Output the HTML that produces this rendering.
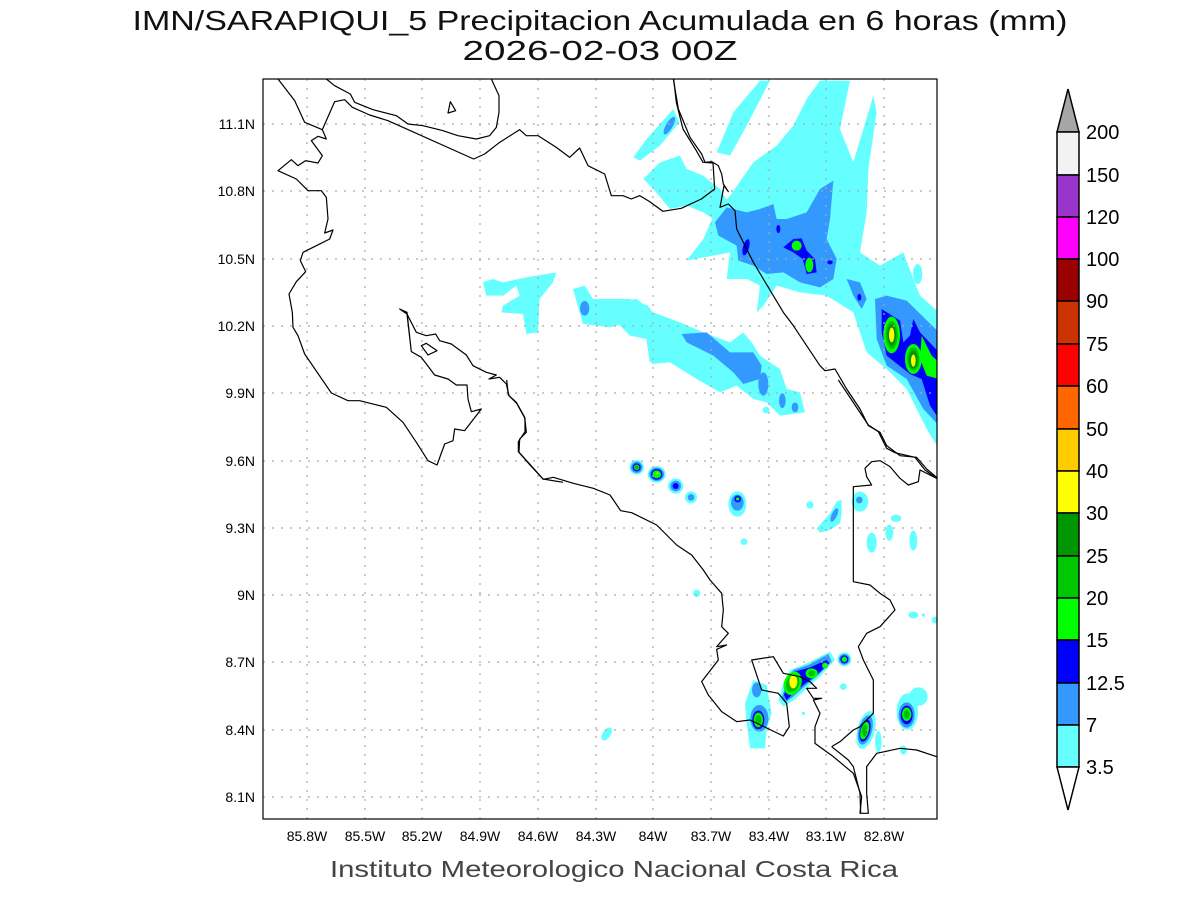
<!DOCTYPE html>
<html><head><meta charset="utf-8"><style>
html,body{margin:0;padding:0;background:#fff;}
svg{display:block;}
text{font-family:"Liberation Sans",sans-serif;}
</style></head><body>
<svg width="1200" height="900" viewBox="0 0 1200 900" xmlns="http://www.w3.org/2000/svg">
<rect width="1200" height="900" fill="#fff"/>
<text x="600" y="30" font-size="28" text-anchor="middle" textLength="935" lengthAdjust="spacingAndGlyphs" fill="#111">IMN/SARAPIQUI_5 Precipitacion Acumulada en 6 horas (mm)</text>
<text x="600" y="60" font-size="28" text-anchor="middle" textLength="275" lengthAdjust="spacingAndGlyphs" fill="#111">2026-02-03 00Z</text>

<defs><clipPath id="cp"><rect x="263" y="79" width="674" height="740"/></clipPath></defs>
<g clip-path="url(#cp)">
<!-- zoom3 frame rain -->
<g transform="translate(620,79) scale(0.33333)">
<g fill="#66ffff">
<path d="M200,545 L250,480 285,400 330,350 400,250 470,200 520,140 560,60 600,5 690,5 660,150 700,250 760,50 770,100 745,270 740,400 720,520 780,560 850,520 880,600 900,650 957,700 957,1110 920,1050 860,930 800,870 740,820 700,700 620,650 540,640 470,620 430,680 410,700 420,620 380,600 320,600 330,520 280,530Z"/>
<path d="M290,220 L340,100 420,5 450,5 380,140 330,230Z"/>
<path d="M40,235 L80,180 160,90 178,130 120,200 60,245Z"/>
<path d="M70,300 L120,250 180,230 200,270 250,290 300,330 330,380 280,420 250,400 200,380 150,390 100,330Z"/>
<path d="M0,665 L50,660 100,700 180,730 250,760 330,790 370,760 395,790 420,830 480,870 500,930 540,940 555,1000 480,1010 440,970 400,960 350,920 300,940 230,900 150,850 95,855 80,760 30,770 0,740Z"/>
<ellipse cx="893" cy="585" rx="14" ry="30"/>
<ellipse cx="438" cy="993" rx="10" ry="10"/>
</g>
<g fill="#3399ff">
<path d="M285,430 L320,385 380,400 420,390 460,375 470,420 500,420 560,400 600,330 640,305 630,420 620,480 650,540 640,600 600,625 540,610 490,580 440,585 400,560 355,545 350,500 295,470Z"/>
<path d="M765,660 L800,650 860,665 957,760 957,1040 910,990 860,900 800,860 770,780Z"/>
<path d="M680,600 L720,610 740,660 725,690 700,650Z"/>
<path d="M185,765 L260,760 330,820 400,820 425,860 420,900 370,915 340,880 280,830 200,790Z"/>
<ellipse cx="430" cy="915" rx="15" ry="35"/>
<ellipse cx="487" cy="965" rx="10" ry="22"/>
<ellipse cx="525" cy="985" rx="10" ry="15"/>
<ellipse cx="148" cy="140" rx="10" ry="30" transform="rotate(30 148 140)"/>
</g>
<g fill="#0000ff">
<ellipse cx="378" cy="505" rx="9" ry="25" transform="rotate(15 378 505)"/>
<path d="M490,505 L520,480 545,478 560,515 585,540 590,580 560,585 548,540 520,520Z"/>
<ellipse cx="475" cy="450" rx="6" ry="12"/>
<ellipse cx="630" cy="550" rx="8" ry="6"/>
<ellipse cx="718" cy="655" rx="6" ry="10"/>
<path d="M785,690 L840,725 850,790 870,770 880,720 900,760 957,820 957,1020 930,980 905,900 870,885 800,830 785,760Z"/>
</g>
<g fill="#00ff00">
<ellipse cx="530" cy="500" rx="15" ry="15"/>
<ellipse cx="568" cy="558" rx="12" ry="22"/>
<ellipse cx="815" cy="768" rx="25" ry="55"/>
<ellipse cx="880" cy="840" rx="25" ry="45"/>
<path d="M905,770 L935,830 957,850 957,900 920,890 900,840Z"/>
</g>
<g fill="#00c000"><ellipse cx="815" cy="768" rx="18" ry="42"/><ellipse cx="880" cy="840" rx="18" ry="35"/></g>
<g fill="#009600"><ellipse cx="815" cy="768" rx="13" ry="32"/><ellipse cx="880" cy="842" rx="13" ry="27"/></g>
<g fill="#ffff00"><ellipse cx="815" cy="768" rx="8" ry="22"/><ellipse cx="880" cy="845" rx="7" ry="18"/></g>
</g>

<!-- zoom1 frame rain -->
<g transform="translate(263,79) scale(0.33333)">
<g fill="#66ffff">
<path d="M660,610 L690,600 720,610 790,595 880,580 870,610 830,660 825,760 790,765 780,705 715,700 720,680 770,650 760,620 720,650 670,650Z"/>
<path d="M930,630 L965,620 990,660 1100,660 1155,680 1180,720 1240,730 1240,820 1160,850 1150,780 1100,770 1080,735 1040,745 960,735Z"/>
</g>
<ellipse cx="965" cy="688" rx="14" ry="22" fill="#3399ff"/>
</g>

<!-- zoom2 frame rain -->
<g transform="translate(500,380) scale(0.33333)">
<g fill="#66ffff">
<circle cx="410" cy="262" r="22"/><ellipse cx="470" cy="283" rx="27" ry="25"/><circle cx="527" cy="318" r="23"/><circle cx="573" cy="352" r="18"/>
<ellipse cx="712" cy="372" rx="27" ry="38"/>
<circle cx="732" cy="485" r="10"/><circle cx="590" cy="640" r="11"/>
<ellipse cx="320" cy="1062" rx="12" ry="22" transform="rotate(35 320 1062)"/>
<circle cx="930" cy="375" r="11"/>
<path d="M950,445 L990,400 1010,365 1025,360 1025,400 1020,430 990,450 960,458Z"/>
<ellipse cx="1080" cy="365" rx="25" ry="30"/>
<ellipse cx="1115" cy="488" rx="15" ry="30"/><ellipse cx="1168" cy="458" rx="12" ry="24"/><ellipse cx="1240" cy="482" rx="12" ry="30"/><ellipse cx="1188" cy="415" rx="16" ry="11"/>
<ellipse cx="1240" cy="705" rx="15" ry="10"/><circle cx="1270" cy="705" r="5"/><circle cx="1305" cy="720" r="10"/>
<circle cx="1030" cy="920" r="10"/><circle cx="910" cy="1000" r="5"/><ellipse cx="1135" cy="1085" rx="10" ry="32"/><ellipse cx="1210" cy="1110" rx="10" ry="14"/>
<path d="M760,900 L800,915 815,1000 800,1050 795,1105 750,1105 740,1030 735,970Z"/>
<path d="M835,960 L850,910 870,870 920,850 990,815 1005,840 960,890 920,925 880,962 850,980Z"/>
<circle cx="1033" cy="838" r="21"/>
<ellipse cx="1098" cy="1050" rx="26" ry="58" transform="rotate(15 1098 1050)"/>
<ellipse cx="1222" cy="995" rx="32" ry="55"/><circle cx="1255" cy="950" r="28"/>
</g>
<g fill="#3399ff">
<circle cx="410" cy="262" r="17"/><ellipse cx="470" cy="283" rx="22" ry="20"/><circle cx="527" cy="318" r="16"/><circle cx="573" cy="352" r="10"/>
<ellipse cx="712" cy="368" rx="19" ry="24"/>
<ellipse cx="1003" cy="405" rx="8" ry="22" transform="rotate(25 1003 405)"/>
<circle cx="1078" cy="360" r="10"/>
<ellipse cx="770" cy="930" rx="14" ry="22"/><ellipse cx="778" cy="1015" rx="27" ry="40"/>
<path d="M845,955 L860,905 880,870 925,855 985,822 995,845 955,885 915,918 880,950 855,968Z"/>
<circle cx="1033" cy="838" r="16"/>
<ellipse cx="1096" cy="1050" rx="20" ry="45" transform="rotate(15 1096 1050)"/>
<ellipse cx="1220" cy="1005" rx="24" ry="38"/>
</g>
<g fill="#0000ff">
<circle cx="410" cy="262" r="12"/><ellipse cx="470" cy="283" rx="17" ry="16"/><circle cx="527" cy="318" r="9"/>
<circle cx="713" cy="357" r="10"/>
<ellipse cx="775" cy="1020" rx="18" ry="28"/>
<path d="M852,945 L865,905 885,875 930,862 980,840 988,850 950,885 910,915 875,945 860,960Z"/>
<circle cx="1033" cy="838" r="12"/>
<ellipse cx="1095" cy="1052" rx="15" ry="34" transform="rotate(15 1095 1052)"/>
<ellipse cx="1220" cy="1005" rx="18" ry="28"/>
</g>
<g fill="#00ff00">
<circle cx="410" cy="262" r="8"/><ellipse cx="470" cy="283" rx="13" ry="12"/>
<circle cx="713" cy="357" r="5"/>
<ellipse cx="775" cy="1020" rx="14" ry="22"/>
<ellipse cx="878" cy="910" rx="26" ry="36" transform="rotate(20 878 910)"/><ellipse cx="935" cy="880" rx="18" ry="15"/><ellipse cx="975" cy="857" rx="9" ry="9"/>
<circle cx="1033" cy="838" r="8"/>
<ellipse cx="1094" cy="1052" rx="12" ry="27" transform="rotate(15 1094 1052)"/>
<ellipse cx="1220" cy="1003" rx="14" ry="20"/>
</g>
<g fill="#00c000"><circle cx="410" cy="262" r="5"/><ellipse cx="775" cy="1020" rx="9" ry="14"/><ellipse cx="878" cy="910" rx="19" ry="27" transform="rotate(20 878 910)"/><ellipse cx="935" cy="880" rx="10" ry="9"/><ellipse cx="1094" cy="1052" rx="8" ry="18"/><ellipse cx="1220" cy="1003" rx="9" ry="13"/></g>
<g fill="#ffff00"><ellipse cx="880" cy="905" rx="12" ry="20"/><circle cx="472" cy="280" r="3"/></g>
</g>

<!-- grid -->
<g stroke="#aaa" stroke-width="1.2" stroke-dasharray="2,7">
<line x1="307" y1="79" x2="307" y2="819"/><line x1="365" y1="79" x2="365" y2="819"/><line x1="422" y1="79" x2="422" y2="819"/><line x1="480" y1="79" x2="480" y2="819"/><line x1="538" y1="79" x2="538" y2="819"/><line x1="596" y1="79" x2="596" y2="819"/><line x1="653" y1="79" x2="653" y2="819"/><line x1="711" y1="79" x2="711" y2="819"/><line x1="769" y1="79" x2="769" y2="819"/><line x1="826" y1="79" x2="826" y2="819"/><line x1="884" y1="79" x2="884" y2="819"/>
<line x1="263" y1="124" x2="937" y2="124"/><line x1="263" y1="191" x2="937" y2="191"/><line x1="263" y1="259" x2="937" y2="259"/><line x1="263" y1="326" x2="937" y2="326"/><line x1="263" y1="393" x2="937" y2="393"/><line x1="263" y1="461" x2="937" y2="461"/><line x1="263" y1="528" x2="937" y2="528"/><line x1="263" y1="595" x2="937" y2="595"/><line x1="263" y1="662" x2="937" y2="662"/><line x1="263" y1="730" x2="937" y2="730"/><line x1="263" y1="797" x2="937" y2="797"/>
</g>

<!-- coastlines -->
<g fill="none" stroke="#000" stroke-width="3.6" stroke-linejoin="round">
<g transform="translate(263,79) scale(0.33333)">
<path d="M45,0 L95,65 125,130 178,152 190,180 165,172 145,185 178,230 165,252 128,245 105,260 85,242 45,275 100,300 135,335 175,335 190,355 195,420 185,462 210,453 200,480 160,500 120,520 112,545 128,578 100,608 78,645 88,700 90,745 105,770 125,825 205,942 255,965 290,965 370,985 420,1030 460,1090 495,1145 522,1158 545,1095 570,1085 575,1050 605,1055 655,990 625,998 615,960 612,918 580,918 555,900 515,888 475,835 445,818 432,700 410,690 432,705 445,818"/>
<path d="M432,705 L460,760 490,770 518,765 530,785 565,795 610,828 630,860 670,880 700,888 678,900 710,895 730,915 738,950 760,970 785,1015 790,1060 770,1080 768,1120 800,1155 840,1200 900,1210"/>
<path d="M178,152 L215,68 245,62 268,85 320,108 375,125 632,240 665,225 710,190 770,152 790,170 825,170 880,205 920,235 950,207 975,260 1025,285 1045,350 1080,350 1105,360 1130,350 1160,368 1200,397 1255,388 1315,360 1355,330 1350,252 1320,250 1300,215 1260,150 1240,70 1232,0"/>
<path d="M190,0 L215,20 262,45 275,70 330,92 400,110 435,135 480,140 540,155 585,170 640,180 680,170 700,145 708,100 708,50 685,0"/>
<path d="M555,102 L562,68 578,95Z"/>
<path d="M475,800 L490,793 522,815 495,828Z"/>
</g>
<g transform="translate(620,79) scale(0.33333)">
<path d="M160,0 L175,90 210,175 245,225 255,250 275,248 295,260 305,285 310,315 325,338 312,320 300,385 325,375 345,395 350,450 380,510 400,550 430,600 460,650 490,700 520,740 560,800 600,860 615,875 645,870 680,930 720,990 745,1040 780,1060 800,1100 840,1130 890,1135 920,1170 950,1195"/>
</g>
<g transform="translate(500,380) scale(0.33333)">
<path d="M20,0 L25,45 50,70 75,115 75,155 55,185 55,215 90,255 130,298 160,292 220,310 280,325 330,345 362,392 395,398 470,435 530,495 575,525 610,570 630,600 665,640 670,690 665,740 685,760 650,800 680,795 650,808 655,840 605,905 625,945 665,995 710,1025 750,1020 850,1068 868,1040 860,970 835,940 785,930 755,840 820,830 850,880 900,890 930,905 950,925 920,925 940,955 965,955 940,960 960,1000 945,1040 945,1090 1000,1130 1060,1180 1085,1250 1080,1300 1105,1300 1100,1240 1100,1160 1130,1120 1200,1105 1250,1110 1310,1130"/>
<path d="M995,1100 L1020,1085 1060,1050 1080,1040 1120,1000 1120,900 1090,840 1075,800 1100,760 1140,740 1185,690 1170,660 1140,640 1110,615 1060,605 1060,320 1115,315 1100,290 1095,265 1115,245 1140,242 1170,260 1200,295 1225,315 1255,305 1260,270 1310,295"/>
<path d="M995,1100 L1045,1140 1060,1160 1080,1240 1082,1300"/>
<path d="M1015,0 L1105,135 1135,155 1160,205 1185,218 1245,232 1275,270 1310,295"/>
</g>
</g>
</g>
<rect x="263" y="79" width="674" height="740" fill="none" stroke="#000" stroke-width="1.2"/>

<!-- tick labels -->
<g font-size="14" fill="#000" text-anchor="end">
<text x="255" y="129">11.1N</text><text x="255" y="196">10.8N</text><text x="255" y="264">10.5N</text><text x="255" y="331">10.2N</text><text x="255" y="398">9.9N</text><text x="255" y="466">9.6N</text><text x="255" y="533">9.3N</text><text x="255" y="600">9N</text><text x="255" y="667">8.7N</text><text x="255" y="735">8.4N</text><text x="255" y="802">8.1N</text>
</g>
<g font-size="14" fill="#000" text-anchor="middle">
<text x="307" y="841">85.8W</text><text x="365" y="841">85.5W</text><text x="422" y="841">85.2W</text><text x="480" y="841">84.9W</text><text x="538" y="841">84.6W</text><text x="596" y="841">84.3W</text><text x="653" y="841">84W</text><text x="711" y="841">83.7W</text><text x="769" y="841">83.4W</text><text x="826" y="841">83.1W</text><text x="884" y="841">82.8W</text>
</g>
<text x="614" y="877" font-size="23" text-anchor="middle" textLength="568" lengthAdjust="spacingAndGlyphs" fill="#444">Instituto Meteorologico Nacional Costa Rica</text>

<!-- colorbar -->
<g stroke="#000" stroke-width="1.5">
<path d="M1057,132 L1068,89 1079,132Z" fill="#a6a6a6"/>
<rect x="1057" y="132" width="22" height="43" fill="#f2f2f2"/>
<rect x="1057" y="175" width="22" height="42" fill="#9933cc"/>
<rect x="1057" y="217" width="22" height="42" fill="#ff00ff"/>
<rect x="1057" y="259" width="22" height="42" fill="#990000"/>
<rect x="1057" y="301" width="22" height="43" fill="#cc3300"/>
<rect x="1057" y="344" width="22" height="42" fill="#ff0000"/>
<rect x="1057" y="386" width="22" height="43" fill="#ff6600"/>
<rect x="1057" y="429" width="22" height="42" fill="#ffcc00"/>
<rect x="1057" y="471" width="22" height="42" fill="#ffff00"/>
<rect x="1057" y="513" width="22" height="43" fill="#009600"/>
<rect x="1057" y="556" width="22" height="42" fill="#00c800"/>
<rect x="1057" y="598" width="22" height="42" fill="#00ff00"/>
<rect x="1057" y="640" width="22" height="43" fill="#0000ff"/>
<rect x="1057" y="683" width="22" height="42" fill="#3399ff"/>
<rect x="1057" y="725" width="22" height="42" fill="#66ffff"/>
<path d="M1057,767 L1068,810 1079,767Z" fill="#fff"/>
</g>
<g font-size="20" fill="#000">
<text x="1086" y="139">200</text><text x="1086" y="182">150</text><text x="1086" y="224">120</text><text x="1086" y="266">100</text><text x="1086" y="308">90</text><text x="1086" y="351">75</text><text x="1086" y="393">60</text><text x="1086" y="436">50</text><text x="1086" y="478">40</text><text x="1086" y="520">30</text><text x="1086" y="563">25</text><text x="1086" y="605">20</text><text x="1086" y="647">15</text><text x="1086" y="690">12.5</text><text x="1086" y="732">7</text><text x="1086" y="774">3.5</text>
</g>
</svg>
</body></html>
